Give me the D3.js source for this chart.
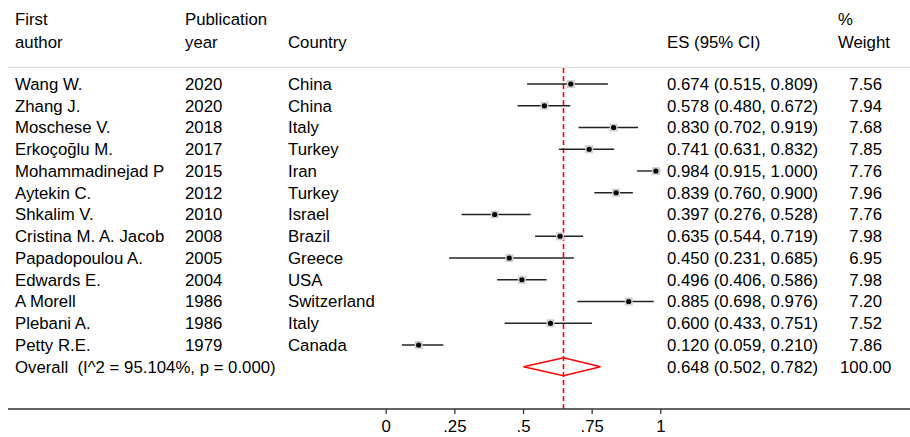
<!DOCTYPE html>
<html><head><meta charset="utf-8">
<script src="https://cdn.jsdelivr.net/npm/d3@7"></script>
<style>
body{margin:0;background:#fff;}
text{font-family:"Liberation Sans",Arial,sans-serif;font-size:16.8px;fill:#000;white-space:pre;}
</style></head>
<body>
<svg id="c" width="910" height="437"></svg>
<script>
const authors = ["Wang W.","Zhang J.","Moschese V.","Erkoçoğlu M.","Mohammadinejad P","Aytekin C.","Shkalim V.","Cristina M. A. Jacob","Papadopoulou A.","Edwards E.","A Morell","Plebani A.","Petty R.E."];
const years = ["2020","2020","2018","2017","2015","2012","2010","2008","2005","2004","1986","1986","1979"];
const countries = ["China","China","Italy","Turkey","Iran","Turkey","Israel","Brazil","Greece","USA","Switzerland","Italy","Canada"];
const es = [0.674,0.578,0.830,0.741,0.984,0.839,0.397,0.635,0.450,0.496,0.885,0.600,0.120];
const lo = [0.515,0.480,0.702,0.631,0.915,0.760,0.276,0.544,0.231,0.406,0.698,0.433,0.059];
const hi = [0.809,0.672,0.919,0.832,1.000,0.900,0.528,0.719,0.685,0.586,0.976,0.751,0.210];
const weights = [7.56,7.94,7.68,7.85,7.76,7.96,7.76,7.98,6.95,7.98,7.20,7.52,7.86];
const overall = {label:"Overall  (I^2 = 95.104%, p = 0.000)", es:0.648, lo:0.502, hi:0.782, weight:100.00};
const ticks = [0, 0.25, 0.5, 0.75, 1];
const tickLabels = ["0", ".25", ".5", ".75", "1"];

const svg = d3.select("#c");
const x = d3.scaleLinear().domain([0,1]).range([385.7,660.3]);
const y = d3.scalePoint().domain(d3.range(authors.length+1)).range([84,366.75]);
const f3 = d3.format(".3f"), f2 = d3.format(".2f");
const pad = s => s.padStart(6, " ");

// header
const hdr = [
  {x:15, l:["First","author"]},
  {x:185, l:["Publication","year"]},
  {x:288, l:["","Country"]},
  {x:667, l:["","ES (95% CI)"]},
  {x:838, l:["%","Weight"]}
];
hdr.forEach(h => h.l.forEach((t,i) => {
  svg.append("text").attr("x",h.x).attr("y",[19,42][i]).attr("dy","0.35em").text(t);
}));

// top faint line
svg.append("line").attr("x1",8).attr("x2",910).attr("y1",67.5).attr("y2",67.5).attr("stroke","#dcdcdc").attr("stroke-width",1);

// dashed overall line
const xo = Math.round(x(overall.es)) - 0.5;
svg.append("line").attr("x1",xo).attr("x2",xo).attr("y1",68).attr("y2",409)
  .attr("stroke","#ff0000").attr("stroke-width",1.6).attr("stroke-dasharray","5,3");

const rows = svg.selectAll("g.row").data(authors.map((a,i)=>({a,i}))).join("g").attr("class","row");
rows.append("text").attr("x",15).attr("y",d=>y(d.i)).attr("dy","0.35em").text(d=>d.a);
rows.append("text").attr("x",185).attr("y",d=>y(d.i)).attr("dy","0.35em").text(d=>years[d.i]);
rows.append("text").attr("x",288).attr("y",d=>y(d.i)).attr("dy","0.35em").text(d=>countries[d.i]);
rows.append("text").attr("x",667).attr("y",d=>y(d.i)).attr("dy","0.35em")
  .text(d=>`${f3(es[d.i])} (${f3(lo[d.i])}, ${f3(hi[d.i])})`);
rows.append("text").attr("x",840).attr("y",d=>y(d.i)).attr("dy","0.35em").text(d=>pad(f2(weights[d.i])));
rows.append("line").attr("x1",d=>x(lo[d.i])).attr("x2",d=>x(hi[d.i])).attr("y1",d=>y(d.i)).attr("y2",d=>y(d.i))
  .attr("stroke","#222").attr("stroke-width",1.4);
rows.append("rect").attr("x",d=>x(es[d.i])-4).attr("y",d=>y(d.i)-4).attr("width",8).attr("height",8).attr("fill","#cfcfcf");
rows.append("circle").attr("cx",d=>x(es[d.i])).attr("cy",d=>y(d.i)).attr("r",2.6).attr("fill","#000");

// overall
const oy = y(authors.length);
svg.append("text").attr("x",15).attr("y",oy).attr("dy","0.35em").text(overall.label);
svg.append("text").attr("x",667).attr("y",oy).attr("dy","0.35em").text(`${f3(overall.es)} (${f3(overall.lo)}, ${f3(overall.hi)})`);
svg.append("text").attr("x",840).attr("y",oy).attr("dy","0.35em").text(pad(f2(overall.weight)));
svg.append("path").attr("d",`M${x(overall.lo)},${oy} L${x(overall.es)},${oy-9} L${x(overall.hi)},${oy} L${x(overall.es)},${oy+9} Z`)
  .attr("fill","none").attr("stroke","#ff0000").attr("stroke-width",1.4);

// axis
const ax = svg.append("g").attr("transform","translate(0,409)")
  .call(d3.axisBottom(x).tickValues(ticks).tickFormat((d,i)=>tickLabels[i]).tickSize(5).tickPadding(6));
ax.select(".domain").remove();
ax.selectAll(".tick line").attr("stroke","#333").attr("stroke-width",1.3);
ax.selectAll(".tick text").attr("font-family",null).attr("font-size",null).style("font-size","16.8px");
svg.append("line").attr("x1",8).attr("x2",910).attr("y1",409).attr("y2",409).attr("stroke","#333").attr("stroke-width",1.4);
</script>
</body></html>
